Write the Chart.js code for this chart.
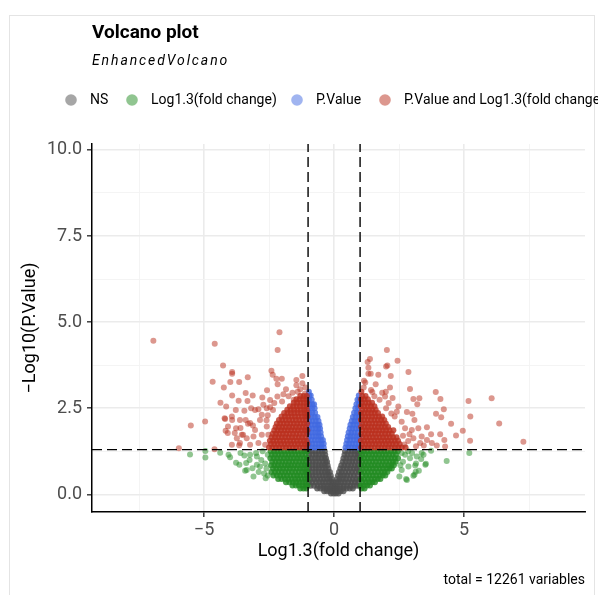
<!DOCTYPE html>
<html>
<head>
<meta charset="utf-8">
<script src="https://cdn.jsdelivr.net/npm/chart.js@4.4.1/dist/chart.umd.min.js"></script>
<style>
  html, body { margin: 0; padding: 0; background: #fff; }
  canvas { display: block; }
</style>
</head>
<body>
<canvas id="chart" width="598" height="595"></canvas>
<script>
// axis ticks (minor ones get a grid line but no label)
const xTicks = [-7.5, -5, -2.5, 0, 2.5, 5, 7.5];
const yTicks = [0, 1.25, 2.5, 3.75, 5, 6.25, 7.5, 8.75, 10];
const fcCutoffs = [-1, 1];
const pCutoff = 1.3;

const legendLabels = ["NS", "Log1.3(fold change)", "P.Value", "P.Value and Log1.3(fold change)"];

// NS (grey) - dense V, rows of [y, xs]
const nsRows = [
  [1.25, [-0.97, -0.85, -0.72, -0.6, -0.47, -0.36, 0.42, 0.55, 0.68, 0.8, 0.92]],
  [1.15, [-0.96, -0.83, -0.7, -0.58, -0.45, -0.34, 0.4, 0.52, 0.65, 0.78, 0.9, 0.98]],
  [1.05, [-0.98, -0.86, -0.73, -0.61, -0.49, -0.37, -0.31, 0.36, 0.48, 0.6, 0.73, 0.86, 0.97]],
  [0.95, [-0.95, -0.82, -0.7, -0.57, -0.45, -0.33, -0.27, 0.33, 0.45, 0.58, 0.7, 0.83, 0.96]],
  [0.85, [-0.97, -0.84, -0.71, -0.59, -0.47, -0.36, -0.25, 0.28, 0.4, 0.53, 0.66, 0.79, 0.92]],
  [0.75, [-0.96, -0.83, -0.7, -0.58, -0.45, -0.33, -0.22, 0.24, 0.36, 0.49, 0.62, 0.75, 0.88, 0.98]],
  [0.65, [-0.98, -0.85, -0.72, -0.6, -0.48, -0.36, -0.25, -0.16, 0.19, 0.3, 0.43, 0.56, 0.69, 0.82, 0.95]],
  [0.55, [-0.95, -0.83, -0.7, -0.57, -0.45, -0.33, -0.22, -0.13, 0.15, 0.26, 0.38, 0.5, 0.63, 0.76, 0.9]],
  [0.45, [-0.9, -0.77, -0.65, -0.52, -0.4, -0.28, -0.17, -0.08, 0.12, 0.22, 0.34, 0.46, 0.59, 0.72, 0.85, 0.97]],
  [0.35, [-0.97, -0.84, -0.7, -0.57, -0.45, -0.33, -0.21, -0.1, -0.03, 0.08, 0.17, 0.29, 0.41, 0.54, 0.67, 0.8, 0.93]],
  [0.25, [-0.9, -0.77, -0.64, -0.51, -0.39, -0.27, -0.15, -0.05, 0.04, 0.13, 0.25, 0.37, 0.5, 0.63, 0.76, 0.88, 0.99]],
  [0.17, [-0.65, -0.53, -0.41, -0.29, -0.18, -0.07, 0.03, 0.13, 0.24, 0.36, 0.48, 0.6, 0.72]],
  [0.09, [-0.38, -0.27, -0.16, -0.06, 0.04, 0.14, 0.25, 0.36]],
  [0.03, [-0.12, -0.02, 0.07, 0.17]],
];

// P.Value only (blue)
const pRows = [
  [1.36, [-0.97, -0.85, -0.73, -0.61, -0.5, -0.4, 0.44, 0.55, 0.67, 0.79, 0.9, 0.98]],
  [1.47, [-0.96, -0.84, -0.72, -0.6, -0.49, -0.4, 0.47, 0.58, 0.7, 0.82, 0.94]],
  [1.58, [-0.98, -0.86, -0.74, -0.62, -0.51, -0.43, 0.5, 0.62, 0.74, 0.86, 0.97]],
  [1.69, [-0.95, -0.83, -0.71, -0.6, -0.5, 0.53, 0.64, 0.76, 0.88, 0.98]],
  [1.8, [-0.97, -0.85, -0.73, -0.62, -0.52, 0.56, 0.67, 0.79, 0.91]],
  [1.91, [-0.96, -0.84, -0.72, -0.61, -0.54, 0.6, 0.71, 0.83, 0.95]],
  [2.02, [-0.98, -0.86, -0.74, -0.63, -0.56, 0.63, 0.74, 0.86, 0.97]],
  [2.13, [-0.95, -0.83, -0.71, -0.6, 0.68, 0.79, 0.9]],
  [2.25, [-0.97, -0.86, -0.74, -0.64, 0.72, 0.83, 0.95]],
  [2.37, [-0.96, -0.84, -0.73, 0.77, 0.88, 0.98]],
  [2.5, [-0.97, -0.85, -0.75, 0.82, 0.93]],
  [2.62, [-0.95, -0.84, -0.77, 0.86, 0.96]],
  [2.75, [-0.97, -0.86, 0.9, 0.98]],
  [2.87, [-0.96, -0.9, 0.95]],
  [2.98, [-0.97]],
];

// Log1.3(fold change) only (green) - dense parts
const fcRows = [
  [1.25, [-2.44, -2.31, -2.18, -2.05, -1.92, -1.79, -1.66, -1.53, -1.4, -1.27, -1.15, -1.04, 1.03, 1.15, 1.28, 1.41, 1.54, 1.67, 1.8, 1.93, 2.06, 2.19, 2.32, 2.45]],
  [1.15, [-2.4, -2.27, -2.14, -2.01, -1.88, -1.75, -1.62, -1.49, -1.36, -1.23, -1.1, 1.08, 1.21, 1.34, 1.47, 1.6, 1.73, 1.86, 1.99, 2.12, 2.25, 2.38]],
  [1.05, [-2.45, -2.32, -2.19, -2.06, -1.93, -1.8, -1.68, -1.55, -1.42, -1.3, -1.17, -1.05, 1.03, 1.16, 1.29, 1.42, 1.55, 1.68, 1.81, 1.94, 2.07, 2.2, 2.33, 2.46]],
  [0.95, [-2.38, -2.25, -2.12, -1.99, -1.86, -1.73, -1.6, -1.47, -1.34, -1.21, -1.09, 1.09, 1.22, 1.35, 1.48, 1.61, 1.74, 1.87, 2.0, 2.13, 2.26, 2.37]],
  [0.85, [-2.42, -2.29, -2.16, -2.03, -1.9, -1.77, -1.65, -1.52, -1.39, -1.26, -1.14, -1.03, 1.04, 1.17, 1.3, 1.43, 1.56, 1.69, 1.82, 1.95, 2.08, 2.2, 2.3]],
  [0.75, [-2.35, -2.22, -2.09, -1.96, -1.83, -1.7, -1.57, -1.44, -1.31, -1.19, -1.07, 1.1, 1.23, 1.36, 1.49, 1.62, 1.75, 1.88, 2.01, 2.13, 2.22]],
  [0.65, [-2.41, -2.27, -2.14, -2.01, -1.88, -1.75, -1.62, -1.49, -1.36, -1.23, -1.11, -1.02, 1.04, 1.17, 1.3, 1.43, 1.56, 1.69, 1.82, 1.94, 2.05]],
  [0.55, [-2.33, -2.2, -2.07, -1.94, -1.81, -1.68, -1.55, -1.42, -1.3, -1.17, -1.05, 1.1, 1.23, 1.36, 1.49, 1.62, 1.75, 1.87, 1.97]],
  [0.45, [-2.15, -2.02, -1.89, -1.76, -1.63, -1.5, -1.38, -1.25, -1.12, -1.02, 1.04, 1.17, 1.3, 1.43, 1.56, 1.68, 1.78]],
  [0.35, [-1.85, -1.72, -1.59, -1.46, -1.33, -1.21, -1.09, 1.09, 1.22, 1.35, 1.47, 1.57]],
  [0.26, [-1.6, -1.47, -1.35, -1.22, -1.1, -1.02, 1.03, 1.15, 1.27, 1.38]],
  [0.17, [-1.3, -1.18, -1.07, 1.06, 1.17]],
];
const fcScatter = [
  [-5.54, 1.16], [-4.95, 1.26], [-4.95, 1.07], [-4.38, 1.21], [-4.06, 1.15], [-4.0, 1.08],
  [-3.77, 0.92], [-3.64, 0.86], [-3.38, 0.91], [-3.36, 0.71], [-3.45, 1.13], [-3.23, 1.15],
  [-3.1, 0.52], [-2.97, 0.86], [-2.85, 0.81], [-2.69, 0.61], [-2.63, 0.47], [-2.97, 1.1],
  [-3.14, 0.76], [-3.42, 0.69], [-3.0, 1.2], [-2.8, 1.0], [-2.65, 0.9], [-2.55, 1.15],
  [-2.6, 0.75], [-3.6, 1.2], [-2.75, 1.25], [-3.25, 1.0], [-2.9, 0.65], [-2.55, 0.55],
  [5.2, 1.2], [4.33, 0.97], [3.53, 0.89], [3.35, 1.03], [3.73, 1.27], [3.12, 0.84],
  [3.14, 0.66], [3.51, 0.86], [3.44, 1.15], [3.15, 0.9], [3.26, 0.69], [3.09, 0.57],
  [2.8, 0.42], [2.51, 0.52], [2.6, 0.71], [2.77, 0.45], [3.05, 0.54], [2.86, 0.81],
  [2.92, 1.05], [2.73, 1.15], [3.18, 1.1], [3.37, 1.2], [2.65, 0.95], [2.85, 1.25],
  [3.0, 1.2], [2.6, 1.2], [2.55, 0.85],
];

// P.Value and Log1.3(fold change) (red) - dense parts
const bothRows = [
  [1.36, [-2.5, -2.37, -2.24, -2.11, -1.98, -1.85, -1.72, -1.59, -1.46, -1.33, -1.2, -1.07, 1.04, 1.17, 1.3, 1.43, 1.56, 1.69, 1.82, 1.95, 2.08, 2.21, 2.34, 2.47, 2.6, 2.75]],
  [1.46, [-2.43, -2.3, -2.17, -2.04, -1.91, -1.78, -1.65, -1.52, -1.39, -1.26, -1.13, -1.03, 1.08, 1.21, 1.34, 1.47, 1.6, 1.73, 1.86, 1.99, 2.12, 2.25, 2.38, 2.52]],
  [1.56, [-2.47, -2.34, -2.21, -2.08, -1.95, -1.82, -1.69, -1.56, -1.43, -1.3, -1.17, -1.06, 1.03, 1.16, 1.29, 1.42, 1.55, 1.68, 1.81, 1.94, 2.07, 2.2, 2.33, 2.46]],
  [1.66, [-2.4, -2.27, -2.14, -2.01, -1.88, -1.75, -1.62, -1.49, -1.36, -1.23, -1.1, 1.1, 1.23, 1.36, 1.49, 1.62, 1.75, 1.88, 2.01, 2.14, 2.27, 2.4]],
  [1.76, [-2.36, -2.23, -2.1, -1.97, -1.84, -1.71, -1.58, -1.45, -1.32, -1.19, -1.06, 1.05, 1.18, 1.31, 1.44, 1.57, 1.7, 1.83, 1.96, 2.09, 2.22]],
  [1.86, [-2.3, -2.17, -2.04, -1.91, -1.78, -1.65, -1.52, -1.39, -1.26, -1.13, -1.03, 1.09, 1.22, 1.35, 1.48, 1.61, 1.74, 1.87, 2.0, 2.13, 2.28]],
  [1.96, [-2.25, -2.12, -1.99, -1.86, -1.73, -1.6, -1.47, -1.34, -1.21, -1.08, 1.04, 1.17, 1.3, 1.43, 1.56, 1.69, 1.82, 1.95, 2.08]],
  [2.06, [-2.2, -2.07, -1.94, -1.81, -1.68, -1.55, -1.42, -1.29, -1.16, -1.04, 1.08, 1.21, 1.34, 1.47, 1.6, 1.73, 1.86, 1.99]],
  [2.16, [-2.12, -1.99, -1.86, -1.73, -1.6, -1.47, -1.34, -1.21, -1.08, 1.03, 1.16, 1.29, 1.42, 1.55, 1.68, 1.81, 1.93]],
  [2.26, [-2.02, -1.89, -1.76, -1.63, -1.5, -1.37, -1.24, -1.11, -1.03, 1.07, 1.2, 1.33, 1.46, 1.59, 1.72, 1.85]],
  [2.36, [-1.92, -1.79, -1.66, -1.53, -1.4, -1.27, -1.14, -1.04, 1.04, 1.17, 1.3, 1.43, 1.56, 1.69]],
  [2.46, [-1.8, -1.67, -1.54, -1.41, -1.28, -1.15, -1.05, 1.08, 1.21, 1.34, 1.47, 1.6]],
  [2.56, [-1.7, -1.57, -1.44, -1.31, -1.18, -1.06, 1.03, 1.16, 1.29, 1.42, 1.55]],
  [2.66, [-1.55, -1.42, -1.29, -1.16, -1.04, 1.07, 1.2, 1.33, 1.46]],
  [2.76, [-1.45, -1.32, -1.19, -1.07, 1.04, 1.17, 1.3]],
  [2.86, [-1.3, -1.17, -1.05, 1.08, 1.21]],
  [2.98, [1.05]],
];
const bothScatter = [
  [-6.95, 4.46], [-4.59, 4.37], [-2.1, 4.71], [-2.17, 4.19], [-4.27, 3.74], [-3.92, 3.5],
  [-3.92, 3.55], [-4.67, 3.27], [-3.99, 3.26], [-3.65, 3.26], [-3.32, 3.4], [-4.24, 3.1],
  [-2.41, 3.59], [-2.36, 3.47], [-2.22, 3.36], [-2.01, 3.36], [-2.17, 3.2], [-2.58, 3.02],
  [-1.45, 3.32], [-1.22, 3.44], [-1.22, 3.23], [-1.45, 3.17], [-1.95, 2.91], [-2.18, 2.84],
  [-1.4, 2.98], [-1.12, 2.92], [-3.92, 2.87], [-3.13, 2.87], [-2.76, 2.81], [-3.4, 2.94],
  [-4.37, 2.66], [-3.67, 2.72], [-3.33, 2.71], [-4.15, 2.55], [-3.78, 2.45], [-3.45, 2.43],
  [-3.19, 2.5], [-2.91, 2.47], [-2.59, 2.5], [-2.46, 2.53], [-5.51, 2.0], [-4.96, 2.12],
  [-4.19, 2.19], [-3.93, 2.26], [-3.92, 2.16], [-4.17, 1.85], [-4.09, 1.78], [-3.82, 1.78],
  [-3.77, 1.92], [-3.6, 1.93], [-3.55, 1.73], [-3.4, 2.16], [-3.31, 2.05], [-3.12, 2.0],
  [-3.65, 1.43], [-4.6, 1.31], [-5.97, 1.34], [-3.23, 2.07], [-3.04, 1.87], [-2.85, 2.16],
  [-2.59, 1.97], [-3.5, 1.73], [-3.74, 1.63], [-3.36, 1.63], [-3.1, 1.68], [-2.78, 1.73],
  [-2.53, 1.73], [-2.91, 1.49], [-3.23, 1.44], [-3.62, 1.49], [-2.65, 1.44], [-2.78, 2.31],
  [-3.04, 2.45], [-2.72, 2.6], [-2.46, 2.74], [-3.62, 2.16], [-4.08, 1.97], [-4.21, 2.21],
  [-3.93, 1.44], [-2.55, 2.3], [-2.35, 2.45], [-2.6, 2.15], [-2.3, 2.65], [-2.0, 2.7],
  [-1.75, 2.85], [-1.6, 2.95], [-1.85, 3.05], [-1.3, 3.05], [-1.1, 3.1], [-1.55, 2.75],
  [2.03, 4.19], [1.38, 3.93], [1.29, 3.84], [2.44, 3.88], [2.05, 3.74], [2.0, 3.71],
  [1.32, 3.68], [1.32, 3.5], [1.41, 3.5], [1.7, 3.47], [2.18, 3.44], [2.86, 3.55],
  [1.14, 3.1], [1.42, 3.03], [1.47, 2.97], [1.99, 2.98], [2.15, 3.1], [2.92, 3.06],
  [3.05, 2.77], [3.28, 2.79], [3.2, 2.62], [3.91, 2.97], [4.09, 2.77], [5.17, 2.71],
  [6.06, 2.79], [4.22, 2.47], [3.92, 2.34], [4.12, 2.24], [5.24, 2.26], [6.35, 2.06],
  [2.8, 2.39], [3.01, 2.34], [3.09, 2.16], [4.5, 2.05], [3.57, 1.95], [4.95, 1.85],
  [3.24, 1.92], [4.69, 1.71], [3.73, 1.75], [4.08, 1.75], [4.24, 1.58], [5.23, 1.56],
  [7.28, 1.53], [2.47, 2.55], [2.41, 2.4], [2.33, 2.26], [2.6, 2.11], [2.73, 1.92],
  [2.99, 1.87], [3.05, 1.63], [3.37, 1.68], [3.57, 1.58], [3.31, 1.49], [3.76, 1.49],
  [4.27, 1.39], [2.85, 1.55], [2.9, 1.75], [3.15, 1.4], [3.45, 1.42], [2.65, 1.7],
  [2.7, 1.45], [3.95, 1.42], [1.6, 3.2], [1.2, 3.25], [1.85, 2.95], [1.75, 2.75],
  [2.1, 2.65], [1.15, 3.3], [1.55, 2.85], [2.25, 2.8], [2.0, 2.5], [2.2, 2.35],
  [1.96, 2.84],
];

// base colours; single points at alpha .5, the packed cores read as near-solid
const rgbNS = "77, 77, 77";
const rgbFC = "34, 139, 34";
const rgbP = "65, 105, 225";
const rgbBoth = "186, 48, 30";
const soft = (rgb) => `rgba(${rgb}, 0.5)`;
const packed = (rgb) => `rgba(${rgb}, 0.8)`;

const X_MIN = -9.31, X_MAX = 9.65, Y_MIN = -0.51, Y_MAX = 10.17;

const fromRows = (rows) => rows.flatMap(([y, xs]) => xs.map((x) => ({ x, y })));
const fromPairs = (pairs) => pairs.map(([x, y]) => ({ x, y }));

const isMajorX = (v) => Math.abs(v / 5 - Math.round(v / 5)) < 1e-6;
const isMajorY = (v) => Math.abs(v / 2.5 - Math.round(v / 2.5)) < 1e-6;

const pointSet = (label, data, color) => ({
  label,
  data,
  backgroundColor: color,
  borderWidth: 0,
  pointRadius: 3,
  pointHoverRadius: 3,
});

const cutLine = (data) => ({
  label: "cutoff",
  data,
  showLine: true,
  borderColor: "#000000",
  borderWidth: 1.4,
  borderDash: [10, 5],
  pointRadius: 0,
  fill: false,
});

const decor = {
  id: "decor",
  beforeDraw(chart) {
    const c = chart.ctx;
    c.save();
    c.fillStyle = "#ffffff";
    c.fillRect(0, 0, chart.width, chart.height);
    c.strokeStyle = "#e4e4e4";
    c.lineWidth = 1;
    c.strokeRect(9.5, 15.5, 585, 600);
    c.restore();
  },
  afterDraw(chart) {
    const c = chart.ctx;
    const area = chart.chartArea;
    c.save();
    c.textBaseline = "middle";
    c.fillStyle = "#000000";

    c.font = "bold 19px Roboto";
    c.textAlign = "left";
    c.fillText("Volcano plot", 92, 33);

    c.font = "italic 14px Roboto";
    c.letterSpacing = "1.9px";
    c.fillText("EnhancedVolcano", 92, 61);
    c.letterSpacing = "0px";

    // legend
    const legendCols = [soft(rgbNS), soft(rgbFC), soft(rgbP), soft(rgbBoth)];
    const legendX = [71, 132, 297, 385];
    c.font = "14px Roboto";
    legendLabels.forEach((t, i) => {
      c.fillStyle = legendCols[i];
      c.beginPath();
      c.arc(legendX[i], 100, 5.8, 0, Math.PI * 2);
      c.fill();
      c.fillStyle = "#000000";
      c.fillText(t, legendX[i] + 19, 100);
    });

    // axis titles
    c.font = "18px Roboto";
    c.textAlign = "center";
    c.fillText("Log1.3(fold change)", (area.left + area.right) / 2, 551);
    c.save();
    c.translate(30, (area.top + area.bottom) / 2);
    c.rotate(-Math.PI / 2);
    c.fillText("\u2212Log10(P.Value)", 0, 0);
    c.restore();

    // caption
    c.font = "14px Roboto";
    c.textAlign = "right";
    c.fillText("total = 12261 variables", 585, 580);
    c.restore();
  },
};

Chart.defaults.font.family = "Roboto";

new Chart(document.getElementById("chart").getContext("2d"), {
  type: "scatter",
  data: {
    datasets: [
      cutLine([{ x: fcCutoffs[0], y: Y_MIN }, { x: fcCutoffs[0], y: Y_MAX }]),
      cutLine([{ x: fcCutoffs[1], y: Y_MIN }, { x: fcCutoffs[1], y: Y_MAX }]),
      cutLine([{ x: X_MIN, y: pCutoff }, { x: X_MAX, y: pCutoff }]),
      pointSet(legendLabels[3], fromPairs(bothScatter), soft(rgbBoth)),
      pointSet(legendLabels[3], fromRows(bothRows), packed(rgbBoth)),
      pointSet(legendLabels[2], fromRows(pRows), packed(rgbP)),
      pointSet(legendLabels[1], fromPairs(fcScatter), soft(rgbFC)),
      pointSet(legendLabels[1], fromRows(fcRows), packed(rgbFC)),
      pointSet(legendLabels[0], fromRows(nsRows), packed(rgbNS)),
    ],
  },
  options: {
    responsive: false,
    animation: false,
    layout: { padding: { top: 144, right: 13, left: 0, bottom: 0 } },
    plugins: {
      legend: { display: false },
      tooltip: { enabled: false },
    },
    scales: {
      x: {
        type: "linear",
        min: X_MIN,
        max: X_MAX,
        afterBuildTicks: (s) => { s.ticks = xTicks.map((v) => ({ value: v })); },
        afterFit: (s) => { s.height = 83; },
        grid: {
          color: (ctx) => (ctx.tick && isMajorX(ctx.tick.value) ? "#ebebeb" : "#f3f3f3"),
          lineWidth: (ctx) => (ctx.tick && isMajorX(ctx.tick.value) ? 1.6 : 0.9),
          drawTicks: true,
          tickLength: 5,
          tickWidth: 1.4,
          tickColor: (ctx) => (ctx.tick && isMajorX(ctx.tick.value) ? "#333333" : "rgba(0,0,0,0)"),
        },
        border: { display: true, color: "#000000", width: 1.5 },
        ticks: {
          autoSkip: false,
          maxRotation: 0,
          padding: 3,
          color: "#4d4d4d",
          font: { size: 18 },
          callback: (v) => (isMajorX(v) ? (v < 0 ? "\u2212" + Math.abs(v) : String(v)) : ""),
        },
      },
      y: {
        type: "linear",
        min: Y_MIN,
        max: Y_MAX,
        afterBuildTicks: (s) => { s.ticks = yTicks.map((v) => ({ value: v })); },
        afterFit: (s) => { s.width = 92; },
        grid: {
          color: (ctx) => (ctx.tick && isMajorY(ctx.tick.value) ? "#ebebeb" : "#f3f3f3"),
          lineWidth: (ctx) => (ctx.tick && isMajorY(ctx.tick.value) ? 1.6 : 0.9),
          drawTicks: true,
          tickLength: 5,
          tickWidth: 1.4,
          tickColor: (ctx) => (ctx.tick && isMajorY(ctx.tick.value) ? "#333333" : "rgba(0,0,0,0)"),
        },
        border: { display: true, color: "#000000", width: 1.5 },
        ticks: {
          autoSkip: false,
          padding: 5,
          color: "#4d4d4d",
          font: { size: 18 },
          callback: (v) => (isMajorY(v) ? v.toFixed(1) : ""),
        },
      },
    },
  },
  plugins: [decor],
});
</script>
</body>
</html>
